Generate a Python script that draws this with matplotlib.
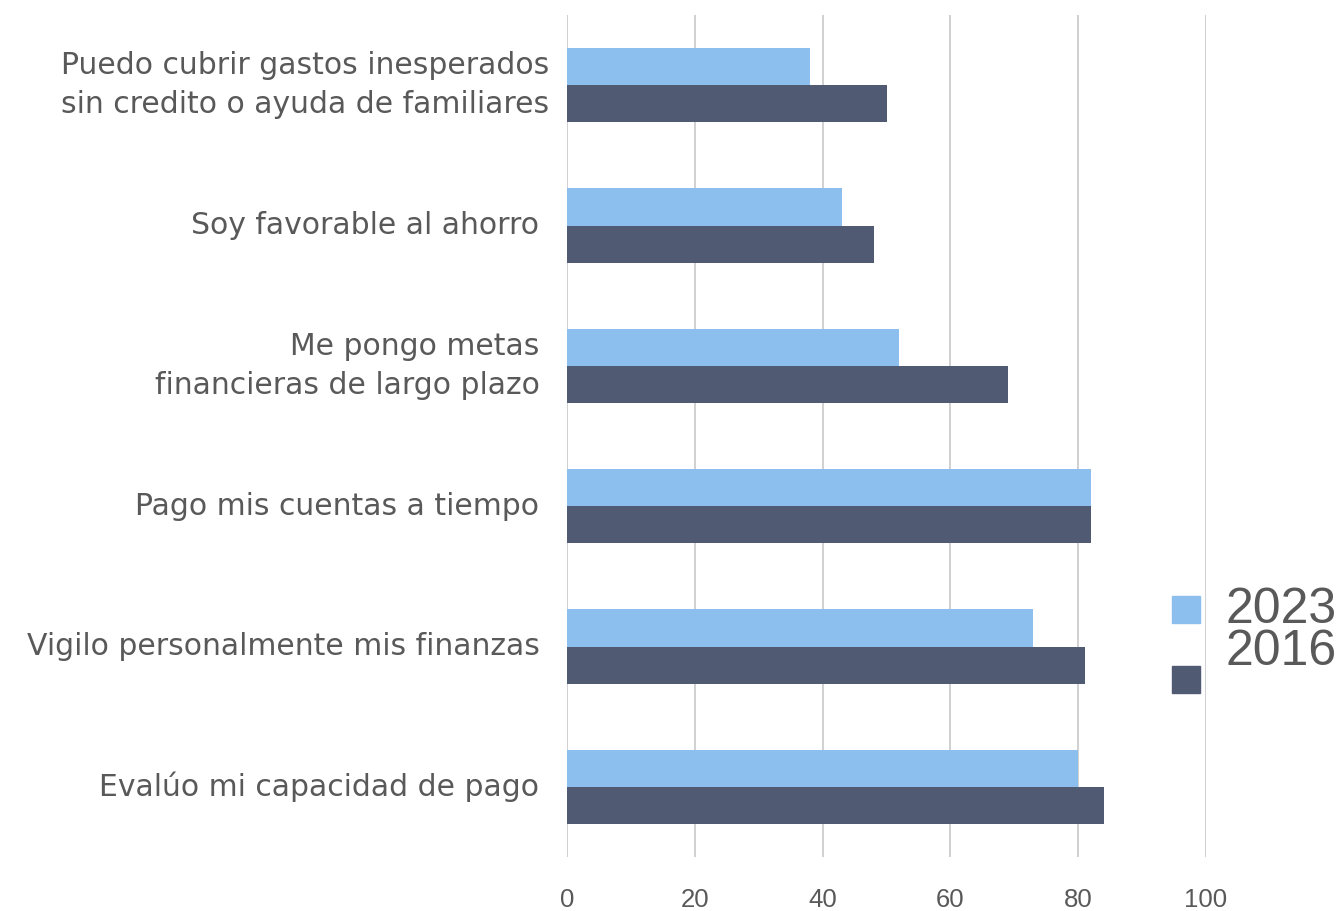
import matplotlib
matplotlib.use('Agg')
import matplotlib.pyplot as plt
import numpy as np
from matplotlib.patches import Rectangle

categories = ['Puedo cubrir gastos inesperados\nsin credito o ayuda de familiares',
              'Soy favorable al ahorro ',
              'Me pongo metas \nfinancieras de largo plazo ',
              'Pago mis cuentas a tiempo ',
              'Vigilo personalmente mis finanzas ',
              'Evalúo mi capacidad de pago ']
vals_2023 = [38, 43, 52, 82, 73, 80]
vals_2016 = [50, 48, 69, 82, 81, 84]
years = ['2023', '2016']
xticks = [0, 20, 40, 60, 80, 100]

c_2023 = '#8CBFEE'
c_2016 = '#505A73'
txt = '#595959'

fig = plt.figure(figsize=(13.38, 9.11), dpi=100)
ax = fig.add_axes([567 / 1338, 1 - 857 / 911, (1206 - 567) / 1338, (857 - 15) / 911])

y = np.arange(len(categories))
h = 0.265
ax.barh(y - h / 2, vals_2023, height=h, color=c_2023, zorder=2)
ax.barh(y + h / 2, vals_2016, height=h, color=c_2016, zorder=2)

ax.set_ylim(len(categories) - 0.5, -0.5)
ax.set_xlim(0, 100)
ax.set_xticks(xticks)
ax.set_xticklabels([str(t) for t in xticks], fontsize=18.5, color=txt,
                   family='Liberation Sans')
ax.set_yticks(y)
ax.set_yticklabels(categories, fontsize=21.5, color=txt, family='DejaVu Sans',
                   linespacing=1.45)
# two-line labels sit centred on the bar pair
for lbl in ax.get_yticklabels():
    lbl.set_va('center')
ax.tick_params(axis='both', length=0)
ax.tick_params(axis='x', pad=22)
ax.tick_params(axis='y', pad=13)
ax.xaxis.grid(True, color='#C8C8C8', linewidth=1.2, zorder=0)
for s in ax.spines.values():
    s.set_visible(False)

# legend drawn by hand: squares on the left, stacked year labels
fig.patches.append(Rectangle((1172 / 1338, 1 - 623 / 911), 28 / 1338, 27 / 911,
                             transform=fig.transFigure, color=c_2023))
fig.patches.append(Rectangle((1172 / 1338, 1 - 693 / 911), 28 / 1338, 27 / 911,
                             transform=fig.transFigure, color=c_2016))
fig.text(1226 / 1338, 1 - 610 / 911, years[0], fontsize=36, color=txt,
         family='Liberation Sans', va='center', ha='left')
fig.text(1226 / 1338, 1 - 652 / 911, years[1], fontsize=36, color=txt,
         family='Liberation Sans', va='center', ha='left')

fig.savefig('out.png', dpi=100)
